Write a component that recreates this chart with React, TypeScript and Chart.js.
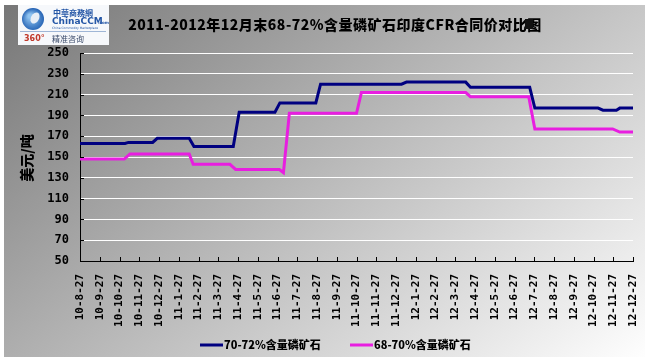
import React, { useEffect, useRef } from "react";
import { Chart, registerables } from "chart.js";

Chart.register(...registerables);

const chartTitle = "2011-2012年12月末68-72%含量磷矿石印度CFR合同价对比图";
const yAxisTitle = "美元/吨";

const monthLabels = [
  "10-8-27", "10-9-27", "10-10-27", "10-11-27", "10-12-27",
  "11-1-27", "11-2-27", "11-3-27", "11-4-27", "11-5-27", "11-6-27",
  "11-7-27", "11-8-27", "11-9-27", "11-10-27", "11-11-27", "11-12-27",
  "12-1-27", "12-2-27", "12-3-27", "12-4-27", "12-5-27", "12-6-27",
  "12-7-27", "12-8-27", "12-9-27", "12-10-27", "12-11-27", "12-12-27",
];

const seriesNames = ["70-72%含量磷矿石", "68-70%含量磷矿石"];
const seriesColors = ["#000080", "#e81ee0"];

// positions measured in months from 10-8-27, values in USD/t
const seriesAX = [0, 2.28, 2.45, 3.68, 3.91, 5.53, 5.77, 7.76, 8.06, 9.87, 10.12, 11.94, 12.18, 16.28, 16.53, 19.53, 19.77, 22.77, 23.03, 26.23, 26.48, 27.16, 27.33, 28];
const seriesAY = [163, 163, 164, 164, 168, 168, 160, 160, 193, 193, 202, 202, 220, 220, 222, 222, 217, 217, 197, 197, 195, 195, 197, 197];

const seriesBX = [0, 2.24, 2.53, 5.53, 5.73, 7.59, 7.88, 10.1, 10.3, 10.6, 14.0, 14.25, 19.53, 19.77, 22.72, 23.03, 26.97, 27.33, 28];
const seriesBY = [148, 148, 153, 153, 143, 143, 138, 138, 135, 192, 192, 212, 212, 208, 208, 177, 177, 174, 174];

const yMin = 50;
const yMax = 250;
const yStep = 20;

const toPoints = (xs: number[], ys: number[]) => xs.map((x, i) => ({ x, y: ys[i] }));

export default function App() {
  const ref = useRef<HTMLCanvasElement>(null);

  useEffect(() => {
    document.body.style.margin = "0";
    const canvas = ref.current!;

    const decor = {
      id: "decor",
      beforeDraw(chart: any) {
        const ctx = chart.ctx as CanvasRenderingContext2D;
        ctx.save();
        ctx.fillStyle = "#ffffff";
        ctx.fillRect(0, 0, chart.width, chart.height);
        const g = ctx.createLinearGradient(4, 5, 424, 533);
        g.addColorStop(0, "#777777");
        g.addColorStop(1, "#fefefe");
        ctx.fillStyle = g;
        ctx.fillRect(4, 5, 641, 352);

        // logo box
        ctx.fillStyle = "#f6f8fb";
        ctx.fillRect(18, 5, 91, 40);
        const gg = ctx.createRadialGradient(30, 16, 2, 33, 20, 12);
        gg.addColorStop(0, "#8fc3f0");
        gg.addColorStop(1, "#1d5cb0");
        ctx.fillStyle = gg;
        ctx.beginPath();
        ctx.arc(33, 19, 11, 0, Math.PI * 2);
        ctx.fill();
        ctx.fillStyle = "#e8eef6";
        ctx.beginPath();
        ctx.ellipse(35, 18, 4, 6, 0.5, 0, Math.PI * 2);
        ctx.fill();
        ctx.textBaseline = "middle";
        ctx.textAlign = "left";
        ctx.fillStyle = "#2456a6";
        ctx.font = "bold 8px 'Noto Sans CJK TC'";
        ctx.fillText("中華商務網", 53, 13);
        ctx.font = "bold 9px 'DejaVu Sans'";
        ctx.fillText("ChinaCCM", 52, 22);
        ctx.font = "bold 4px 'DejaVu Sans'";
        ctx.fillText(".com", 98, 23);
        ctx.font = "3px 'DejaVu Sans'";
        ctx.fillText("China Commodity Marketplace", 52, 28);
        ctx.strokeStyle = "#9fb6d6";
        ctx.lineWidth = 1;
        ctx.beginPath();
        ctx.moveTo(20, 31.5);
        ctx.lineTo(106, 31.5);
        ctx.stroke();
        ctx.fillStyle = "#c0392b";
        ctx.font = "bold 8px 'DejaVu Sans'";
        ctx.fillText("360°", 24, 38.5);
        ctx.fillStyle = "#3a4a6a";
        ctx.font = "8px 'Noto Sans CJK SC'";
        ctx.fillText("精准咨询", 52, 38.5);

        // title
        ctx.save();
        ctx.fillStyle = "#000000";
        ctx.textAlign = "center";
        ctx.font = "900 14px 'Noto Sans CJK SC'";
        (ctx as any).letterSpacing = "0.5px";
        ctx.fillText(chartTitle, 335, 25);
        ctx.restore();

        // small marker box top-right
        ctx.fillStyle = "#111111";
        ctx.fillRect(525, 19, 8, 10);

        // y axis title
        ctx.save();
        ctx.translate(27, 158);
        ctx.rotate(-Math.PI / 2);
        ctx.font = "900 14px 'Noto Sans CJK SC'";
        ctx.fillStyle = "#000000";
        ctx.textAlign = "center";
        ctx.fillText(yAxisTitle, 0, 0);
        ctx.restore();

        // legend
        const legendItems = [
          { x: 200, name: seriesNames[0], color: seriesColors[0] },
          { x: 350, name: seriesNames[1], color: seriesColors[1] },
        ];
        legendItems.forEach((it) => {
          ctx.strokeStyle = it.color;
          ctx.lineWidth = 3;
          ctx.beginPath();
          ctx.moveTo(it.x, 345);
          ctx.lineTo(it.x + 23, 345);
          ctx.stroke();
          ctx.fillStyle = "#000000";
          ctx.textAlign = "left";
          ctx.font = "900 11px 'Noto Sans CJK SC'";
          ctx.fillText(it.name, it.x + 24, 345);
        });
        ctx.restore();
      },
      afterDraw(chart: any) {
        const ctx = chart.ctx as CanvasRenderingContext2D;
        const xs = chart.scales.x;
        const ys = chart.scales.y;
        const area = chart.chartArea;
        ctx.save();
        ctx.strokeStyle = "#000000";
        ctx.lineWidth = 1;
        ctx.beginPath();
        for (let v = yMin + yStep; v <= yMax; v += yStep) {
          const py = Math.round(ys.getPixelForValue(v)) + 0.5;
          ctx.moveTo(area.left, py);
          ctx.lineTo(area.left + 4, py);
        }
        for (let i = 1; i < monthLabels.length; i++) {
          const px = Math.round(xs.getPixelForValue(i)) + 0.5;
          ctx.moveTo(px, area.bottom);
          ctx.lineTo(px, area.bottom - 4);
        }
        ctx.stroke();
        ctx.restore();
      },
    };

    const chart = new Chart(canvas, {
      type: "line",
      data: {
        datasets: [
          {
            label: seriesNames[0],
            data: toPoints(seriesAX, seriesAY),
            borderColor: seriesColors[0],
            borderWidth: 3,
            pointRadius: 0,
            tension: 0,
            fill: false,
          },
          {
            label: seriesNames[1],
            data: toPoints(seriesBX, seriesBY),
            borderColor: seriesColors[1],
            borderWidth: 3,
            pointRadius: 0,
            tension: 0,
            fill: false,
          },
        ],
      },
      options: {
        animation: false,
        responsive: false,
        maintainAspectRatio: false,
        layout: { padding: { left: 0, top: 53, right: 18, bottom: 0 } },
        plugins: {
          legend: { display: false },
          title: { display: false },
          tooltip: { enabled: false },
        },
        scales: {
          x: {
            type: "linear",
            min: 0,
            max: monthLabels.length - 1,
            afterFit: (s: any) => {
              s.height = 101;
              s.paddingLeft = 0;
              s.paddingRight = 0;
            },
            grid: { display: false, drawTicks: false },
            border: { display: true, color: "#000000", width: 1 },
            ticks: {
              stepSize: 1,
              autoSkip: false,
              maxRotation: 90,
              minRotation: 90,
              padding: 13,
              color: "#000000",
              font: { family: "'DejaVu Sans Mono'", size: 11, weight: "bold" },
              callback: (v: any) => monthLabels[Math.round(Number(v))] ?? "",
            },
          },
          y: {
            min: yMin,
            max: yMax,
            afterFit: (s: any) => {
              s.width = 80;
              s.paddingTop = 0;
              s.paddingBottom = 0;
            },
            grid: {
              drawTicks: false,
              lineWidth: 1,
              color: (c: any) => (c.tick && c.tick.value === yMin ? "rgba(0,0,0,0)" : "#ffffff"),
            },
            border: { display: true, color: "#000000", width: 1 },
            ticks: {
              stepSize: yStep,
              padding: 11,
              color: "#000000",
              font: { family: "'DejaVu Sans Mono'", size: 12, weight: "bold" },
            },
          },
        },
      },
      plugins: [decor],
    });

    return () => chart.destroy();
  }, []);

  return (
    <div style={{ width: 651, height: 362 }}>
      <canvas ref={ref} width={651} height={362} style={{ display: "block", width: 651, height: 362 }} />
    </div>
  );
}
